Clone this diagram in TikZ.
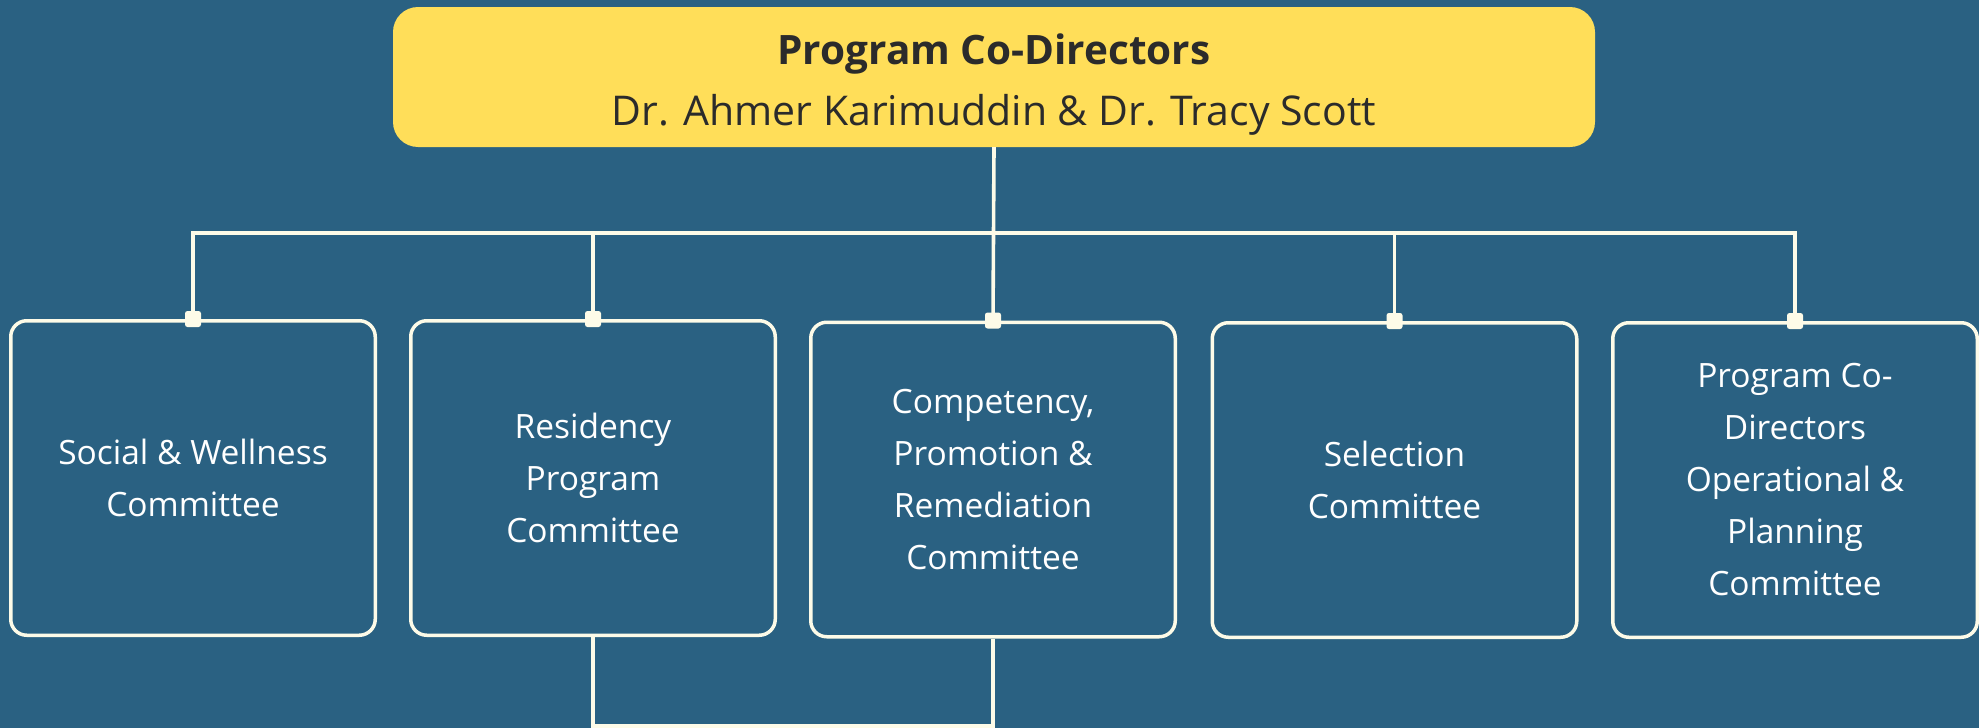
\documentclass[tikz,border=0pt]{standalone}
\usepackage{fontspec}
\setmainfont{Open Sans}
\definecolor{bg}{HTML}{2A6182}
\definecolor{cream}{HTML}{FDFBE8}
\definecolor{gold}{HTML}{FFDE59}
\definecolor{ink}{HTML}{2B2B2B}
\begin{document}
\begin{tikzpicture}[x=1pt,y=-1pt,
  conn/.style={draw=cream,line width=3.6pt},
  topbox/.style={fill=gold,rounded corners=25pt,minimum width=1202pt,minimum height=140pt,inner sep=0pt},
  combox/.style={draw=cream,line width=3.5pt,rounded corners=16pt,minimum width=364.5pt,minimum height=314.5pt,inner sep=0pt,
    text=white,align=center,font=\fontsize{33.5}{52}\selectfont},
  knob/.style={fill=cream,rounded corners=2.5pt,minimum size=16pt,inner sep=0pt},
  ttl/.style={text=ink,anchor=base,inner sep=0pt}]
\fill[bg] (0,0) rectangle (1979,728);
\useasboundingbox (0,0) rectangle (1979,728);

\node[topbox] (top) at (994,77) {};
\node[ttl,font=\fontsize{40.5}{44}\selectfont\bfseries] (t1) at (994,64) {Program Co-Directors};
\node[ttl,font=\fontsize{41}{44}\selectfont] (t2) at (994,125) {Dr. Ahmer Karimuddin \& Dr. Tracy Scott};

\node[combox] (b1) at (193,478) {Social \& Wellness\\Committee};
\node[combox] (b2) at (593,478) {Residency\\Program\\Committee};
\node[combox] (b3) at (993,479.5) {Competency,\\Promotion \&\\Remediation\\Committee};
\node[combox] (b4) at (1394.5,480) {Selection\\Committee};
\node[combox] (b5) at (1795,480) {Program Co-\\Directors\\Operational \&\\Planning\\Committee};

\coordinate (bus) at (994,233);
\coordinate (low) at (994,726);

\draw[conn] (top.south) -- (b3.north);
\draw[conn] (b1.north) -- (b1.north |- bus) -- (b5.north |- bus) -- (b5.north);
\draw[conn] (b2.north) -- (b2.north |- bus);
\draw[conn] (b4.north) -- (b4.north |- bus);
\draw[conn] (b2.south) -- (b2.south |- low) -- (b3.south |- low) -- (b3.south);

\node[knob] (k1) at (b1.north) {};
\node[knob] (k2) at (b2.north) {};
\node[knob] (k3) at (b3.north) {};
\node[knob] (k4) at (b4.north) {};
\node[knob] (k5) at (b5.north) {};
\end{tikzpicture}
\end{document}
